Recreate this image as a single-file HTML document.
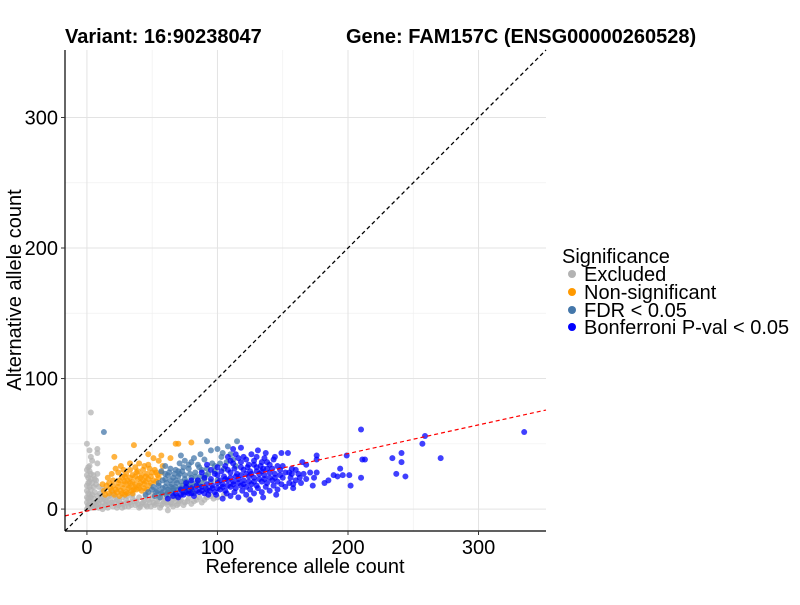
<!DOCTYPE html>
<html><head><meta charset="utf-8"><style>
body{margin:0;background:#fff;}
svg text{font-family:"Liberation Sans",Arial,sans-serif;}
</style></head><body>
<svg id="chart" width="800" height="600" xmlns="http://www.w3.org/2000/svg">
<rect width="800" height="600" fill="#fff"/>
<g id="grid"></g>
<g id="points"></g>
<g id="lines"></g>
<g id="axes"></g>
<text x="65" y="43" font-size="20" font-weight="bold">Variant: 16:90238047</text>
<text x="346" y="43" font-size="20" font-weight="bold">Gene: FAM157C (ENSG00000260528)</text>
<text x="305" y="573" font-size="20" text-anchor="middle">Reference allele count</text>
<text transform="translate(21,290) rotate(-90)" font-size="20" text-anchor="middle">Alternative allele count</text>
<g>
<text x="562" y="263" font-size="20">Significance</text>
<g><circle cx="572" cy="274" r="4" fill="#b3b3b3"/><text x="584" y="281" font-size="20">Excluded</text></g>
<g><circle cx="572" cy="292" r="4" fill="#ff9900"/><text x="584" y="299" font-size="20">Non-significant</text></g>
<g><circle cx="572" cy="310" r="4" fill="#4477aa"/><text x="584" y="317" font-size="20">FDR &lt; 0.05</text></g>
<g><circle cx="572" cy="327" r="4" fill="#0000ff"/><text x="584" y="334" font-size="20">Bonferroni P-val &lt; 0.05</text></g>
</g>
</svg>
<script>
const ticks=[0,100,200,300];
const minorTicks=[50,150,250];
const redSlope=0.22;
const redIntercept=-1.5;
const grey=[[0,0],[1,3],[2,6],[0,9],[1,12],[3,15],[0,18],[2,21],[1,24],[3,27],[0,30],[2,33],[1,2],[3,1],[4,4],[5,2],[6,5],[5,8],[7,3],[8,6],[4,11],[6,13],[5,17],[7,19],[8,10],[9,4],[10,7],[11,2],[12,5],[13,9],[14,3],[15,6],[16,1],[17,4],[18,8],[20,2],[21,5],[22,9],[24,3],[25,6],[27,1],[28,4],[30,7],[32,2],[33,5],[35,8],[37,3],[38,6],[40,1],[42,4],[44,7],[46,2],[48,5],[50,8],[52,3],[54,6],[56,1],[58,4],[60,7],[62,3],[64,5],[66,2],[68,6],[70,4],[72,7],[75,5],[78,8],[82,6],[86,9],[90,7],[95,10],[100,9],[105,11],[124,8],[62,-1],[3,74],[0,50],[8,46],[8,43],[4,37],[8,35],[8,27],[3,40],[2,45],
[0,5],[1,8],[2,11],[0,14],[2,17],[1,20],[3,23],[0,26],[2,29],[1,32],[4,20],[6,23],[5,26],[3,9],[2,1],[6,1],[9,1],[12,0],[15,3],[19,5],[23,1],[26,4],[29,2],[31,5],[34,3],[36,6],[39,4],[41,2],[43,5],[45,3],[47,7],[49,2],[51,5],[53,4],[55,8],[57,3],[59,6],[61,5],[63,8],[65,4],[67,8],[69,3],[71,6],[74,3],[77,6],[80,4],[84,7],[88,5],[92,9],[97,8],[10,12],[12,15],[9,17],[7,22],[11,9],[14,7],[17,10],[20,12],[23,7],[27,9],[31,10],[35,11],[40,9],[45,10],[50,11],[55,11],[60,10],[65,9]];
const orange=[[36,49],[21,40],[68,50],[70,50],[80,51],[57,41],[64,39],[47,42],[26,33],[22,31],[51,39],[55,37],[58,33],[40,35],[44,33],[48,31],[52,30],[33,30],[30,27],[35,26],[38,28],[42,26],[46,27],[50,28],[54,26],[27,24],[31,22],[35,21],[39,23],[43,22],[47,23],[51,22],[55,24],[20,22],[24,20],[28,19],[32,18],[36,17],[40,18],[44,19],[48,18],[15,18],[18,16],[22,15],[26,14],[30,13],[34,14],[38,15],[42,14],[13,14],[17,12],[21,11],[25,10],[29,11],[12,19],[16,24],[19,27],[24,28],[14,11],[33,35],
[29,25],[33,24],[37,25],[41,24],[45,25],[49,25],[53,28],[25,22],[29,21],[33,20],[37,19],[41,20],[45,21],[49,20],[53,21],[20,18],[24,17],[28,16],[32,16],[36,15],[40,16],[44,16],[46,15],[19,14],[23,13],[27,12],[31,12],[35,12],[39,29],[43,30],[47,34],[37,32],[28,30],[17,20],[57,28]];
const steel=[[13,59],[92,52],[115,52],[100,46],[104,43],[71,35],[75,37],[80,36],[85,34],[90,38],[96,35],[103,40],[110,42],[112,38],[68,30],[73,29],[78,31],[83,28],[88,30],[93,27],[98,29],[105,31],[62,26],[66,24],[70,25],[75,23],[80,24],[85,22],[90,23],[95,21],[100,22],[58,22],[61,20],[65,19],[69,20],[73,18],[77,19],[81,17],[86,18],[91,16],[55,18],[58,16],[62,15],[66,14],[70,15],[74,13],[78,14],[82,12],[50,15],[53,13],[57,12],[61,11],[65,12],[69,10],[47,13],[45,11],[52,10],[56,9],[60,27],[64,31],[57,29],[82,39],[87,42],[72,41],[95,45],[107,36],[114,33],[60,33],[108,48],
[60,23],[64,22],[68,22],[72,21],[76,21],[80,20],[84,20],[88,20],[67,27],[71,27],[75,26],[79,27],[83,25],[87,25],[91,26],[60,17],[64,17],[68,17],[72,16],[76,16],[80,15],[54,14],[58,13],[62,13],[66,16],[70,29],[74,32],[78,34],[86,32],[92,31],[98,33],[102,35],[63,28],[55,20],[51,17]];
const blue=[[210,61],[335,59],[259,56],[257,50],[271,39],[241,43],[241,36],[234,39],[237,27],[244,25],[213,38],[211,38],[199,41],[210,24],[202,18],[201,26],[194,31],[196,26],[192,25],[189,26],[185,22],[182,20],[173,18],[174,24],[176,28],[176,41],[176,38],[171,28],[168,34],[165,36],[166,27],[162,27],[157,27],[157,31],[158,19],[154,43],[149,43],[144,40],[137,43],[62,8],[66,10],[70,9],[74,11],[78,12],[82,10],[86,13],[90,12],[94,14],[98,13],[102,15],[106,14],[110,17],[114,16],[118,18],[122,17],[126,19],[130,18],[134,21],[138,20],[142,22],[146,21],[150,24],[72,15],[76,17],[80,16],[84,18],[88,17],[92,19],[96,18],[100,20],[104,19],[108,22],[112,21],[116,23],[120,22],[124,25],[128,24],[132,27],[136,26],[140,28],[144,27],[148,30],[85,22],[90,24],[95,23],[100,26],[105,25],[110,28],[115,27],[120,30],[125,29],[130,32],[135,31],[140,34],[95,30],[100,32],[106,33],[112,35],[118,36],[124,34],[128,37],[134,36],[108,40],[114,42],[120,40],[126,42],[131,45],[118,47],[112,46],[104,8],[110,10],[116,9],[122,11],[128,12],[134,13],[140,14],[146,15],[152,17],[158,16],[125,7],[135,9],[145,11],[155,20],[160,22],[150,33],[143,38],[155,28],[163,24],[88,28],[92,34],[80,22],[76,20],
[68,12],[72,11],[76,13],[80,12],[84,14],[88,14],[92,15],[96,16],[100,16],[104,17],[108,18],[112,19],[116,20],[120,19],[124,21],[128,21],[132,23],[136,23],[140,24],[144,24],[148,26],[102,22],[106,23],[110,24],[114,25],[118,26],[122,27],[126,27],[130,29],[134,29],[138,31],[142,31],[146,33],[98,27],[103,29],[108,30],[113,31],[118,32],[123,32],[128,34],[133,33],[138,36],[110,37],[116,39],[122,38],[130,40],[136,39],[93,11],[99,11],[107,12],[113,13],[119,14],[125,15],[131,16],[137,17],[143,18],[149,19],[152,28],[156,24],[160,30],[164,20],[168,23]];
const X0=65,X1=546,Y0=50,Y1=531,DMIN=-16.8,DMAX=351.7;
function sx(v){return X0+(v-DMIN)/(DMAX-DMIN)*(X1-X0);}
function sy(v){return Y1-(v-DMIN)/(DMAX-DMIN)*(Y1-Y0);}
const NS="http://www.w3.org/2000/svg";
function mk(t,a,p){const e=document.createElementNS(NS,t);for(const k in a)e.setAttribute(k,a[k]);p.appendChild(e);return e;}
const g=document.getElementById('grid');
mk('rect',{x:X0,y:Y0,width:X1-X0,height:Y1-Y0,fill:'#fff'},g);
minorTicks.forEach(t=>{
 const a=mk('line',{x1:X0,x2:X1,y1:sy(t),y2:sy(t),stroke:'#f0f0f0','stroke-width':0.7},g);
 
 
 const b=mk('line',{y1:Y0,y2:Y1,x1:sx(t),x2:sx(t),stroke:'#f0f0f0','stroke-width':0.7},g);
 
 
});
ticks.forEach(t=>{
 const a=mk('line',{x1:X0,x2:X1,y1:sy(t),y2:sy(t),stroke:'#e3e3e3','stroke-width':1},g);
 
 
 const b=mk('line',{y1:Y0,y2:Y1,x1:sx(t),x2:sx(t),stroke:'#e3e3e3','stroke-width':1},g);
 
 
});
const pg=document.getElementById('points');
[[grey,'#b3b3b3','point-excluded'],[orange,'#ff9900','point-non-significant'],[steel,'#4477aa','point-fdr'],[blue,'#0000ff','point-bonferroni']].forEach(([arr,col,nm])=>{
 arr.forEach(p=>{
  const c=mk('circle',{cx:sx(p[0]),cy:sy(p[1]),r:3,fill:col,'fill-opacity':0.75},pg);
  
  
 });
});
const lg=document.getElementById('lines');
const d=mk('line',{x1:sx(DMIN),y1:sy(DMIN),x2:sx(DMAX),y2:sy(DMAX),stroke:'#000','stroke-width':1.3,'stroke-dasharray':'4,3'},lg);


const r=mk('line',{x1:sx(DMIN),y1:sy(redIntercept+redSlope*DMIN),x2:sx(DMAX),y2:sy(redIntercept+redSlope*DMAX),stroke:'#ff0000','stroke-width':1.2,'stroke-dasharray':'4,3'},lg);


const ax=document.getElementById('axes');
mk('line',{x1:X0,x2:X0,y1:Y0,y2:Y1,stroke:'#000','stroke-width':1.2},ax);
mk('line',{x1:X0,x2:X1,y1:Y1,y2:Y1,stroke:'#000','stroke-width':1.2},ax);
ticks.forEach(t=>{
 mk('line',{x1:X0-4,x2:X0,y1:sy(t),y2:sy(t),stroke:'#333'},ax);
 mk('line',{x1:sx(t),x2:sx(t),y1:Y1,y2:Y1+4,stroke:'#333'},ax);
 const a=mk('text',{x:X0-7,y:sy(t)+7,'font-size':20,'text-anchor':'end'},ax);a.textContent=t;
 
 
 const b=mk('text',{x:sx(t),y:Y1+23,'font-size':20,'text-anchor':'middle'},ax);b.textContent=t;
 
 
});
</script>
</body></html>
